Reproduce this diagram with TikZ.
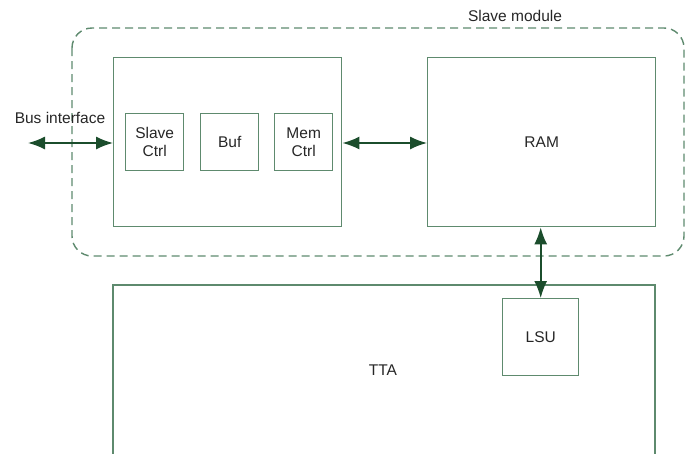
\documentclass[tikz,border=0pt]{standalone}
\usepackage{fontspec}
\setmainfont{Liberation Sans}
\usetikzlibrary{arrows.meta}
\definecolor{boxg}{HTML}{5E8A6E}
\definecolor{arrg}{HTML}{1B4D2C}
\begin{document}
\begin{tikzpicture}[x=1pt,y=-1pt,
  box/.style={draw=boxg,line width=1.4pt,inner sep=0pt,anchor=north west},
  lbl/.style={font=\fontsize{15.5}{18}\selectfont,text=black!85,align=center},
  conn/.style={draw=arrg,line width=1.6pt,{Latex[length=17pt,width=13pt]}-{Latex[length=17pt,width=13pt]}}]
\useasboundingbox (0,0) rectangle (687,453);
\draw[boxg,line width=1.4pt,dash pattern=on 8pt off 5pt,rounded corners=20pt] (72,28) rectangle (684,256);
\node[lbl] (slavemod) at (515,16) {Slave module};
\node[box,minimum width=228pt,minimum height=169pt] (left) at (113,57) {};
\node[box,minimum width=228pt,minimum height=169pt] (ram) at (427,57) {};
\node[lbl] at (ram.center) {RAM};
\node[box,minimum width=58pt,minimum height=57pt,lbl] (sctrl) at (125,113) {Slave\\Ctrl};
\node[box,minimum width=58pt,minimum height=57pt,lbl] (buf) at (200,113) {Buf};
\node[box,minimum width=58pt,minimum height=57pt,lbl] (mctrl) at (274,113) {Mem\\Ctrl};
\draw[boxg,line width=1.4pt] (113,460) -- (113,285) -- (655,285) -- (655,460);
\node[lbl] (tta) at (383,370) {TTA};
\node[box,minimum width=76pt,minimum height=77pt,lbl] (lsu) at (502,298) {LSU};
\coordinate (busend) at (28,143);
\node[lbl] (busif) at (60,118) {Bus interface};
\draw[conn] (busend) -- (busend -| left.west);
\draw[conn] (left.east |- 0,143) -- (ram.west |- 0,143);
\draw[conn] (ram.south -| lsu.north) -- (lsu.north);
\end{tikzpicture}
\end{document}
